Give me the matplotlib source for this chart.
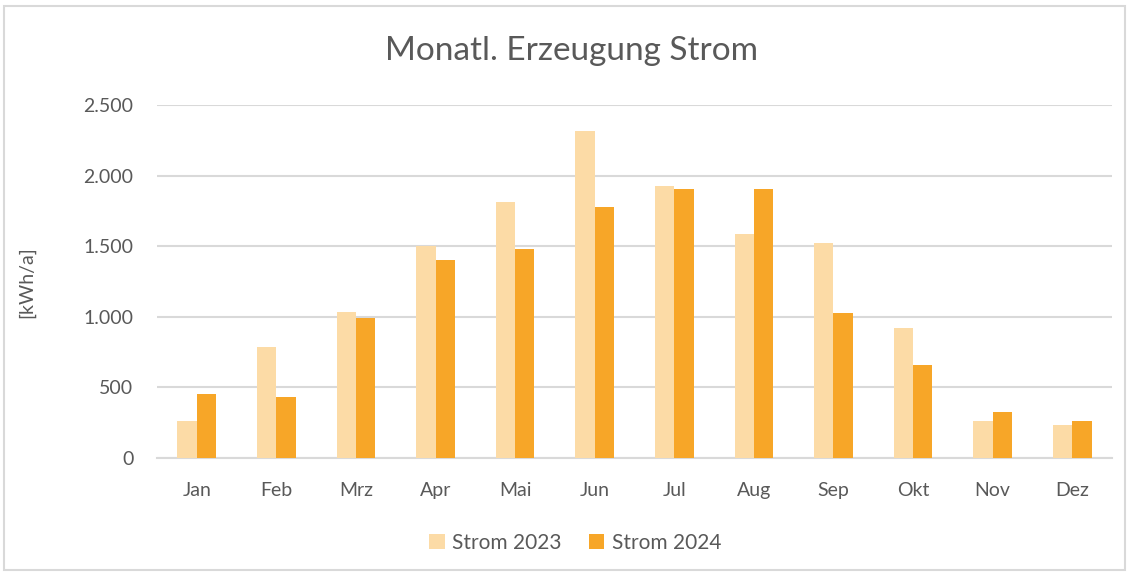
import numpy as np
import matplotlib.pyplot as plt
from matplotlib.patches import Rectangle
from matplotlib.ticker import FuncFormatter

months = ["Jan", "Feb", "Mrz", "Apr", "Mai", "Jun",
          "Jul", "Aug", "Sep", "Okt", "Nov", "Dez"]
strom_2023 = [260, 787, 1033, 1498, 1815, 2316, 1924, 1588, 1524, 924, 262, 236]
strom_2024 = [451, 435, 988, 1404, 1480, 1780, 1905, 1905, 1026, 662, 326, 262]

c_2023 = "#FCDBA6"
c_2024 = "#F7A628"
txt = "#595959"
grid = "#D9D9D9"

plt.rcParams['font.family'] = ['Lato', 'DejaVu Sans']

fig = plt.figure(figsize=(11.3, 5.73), dpi=100)
ax = fig.add_axes([157/1130, 1 - 458/573, 955/1130, 353/573])

x = np.arange(len(months))
w = 0.243
ax.bar(x - w/2, strom_2023, w, color=c_2023, label="Strom 2023", zorder=3)
ax.bar(x + w/2, strom_2024, w, color=c_2024, label="Strom 2024", zorder=3)

ax.set_xlim(-0.5, len(months) - 0.5)
ax.set_ylim(0, 2500)
ax.set_yticks(np.arange(0, 2501, 500))
ax.yaxis.set_major_formatter(FuncFormatter(lambda v, p: f"{int(v):,}".replace(",", ".")))
ax.set_xticks(x)
ax.set_xticklabels(months)
ax.grid(axis="y", color=grid, linewidth=1.5, zorder=0)
for s in ["top", "right", "left"]:
    ax.spines[s].set_visible(False)
ax.spines["bottom"].set_color(grid)
ax.spines["bottom"].set_linewidth(1.5)
ax.tick_params(axis="both", length=0, labelsize=14, colors=txt)
ax.tick_params(axis="x", pad=17)
ax.tick_params(axis="y", pad=17)

fig.text(27/1130, 1 - 282/573, "[kWh/a]", rotation=90, ha="center", va="center",
         fontsize=14, color=txt)
fig.text(0.506, 1 - 51/573, "Monatl. Erzeugung Strom", ha="center", va="center",
         fontsize=24, color=txt)

fig.legend(loc="center", bbox_to_anchor=(0.509, 1 - 543/573), ncol=2, frameon=False,
           fontsize=15, labelcolor=txt, handlelength=0.75, handleheight=0.75,
           handletextpad=0.35, columnspacing=1.3)

fig.patches.append(Rectangle((4/1130, 3/573), 1 - 9/1130, 1 - 9/573,
                             transform=fig.transFigure, fill=False,
                             edgecolor=grid, linewidth=1.5))

fig.savefig("out.png", dpi=100)
